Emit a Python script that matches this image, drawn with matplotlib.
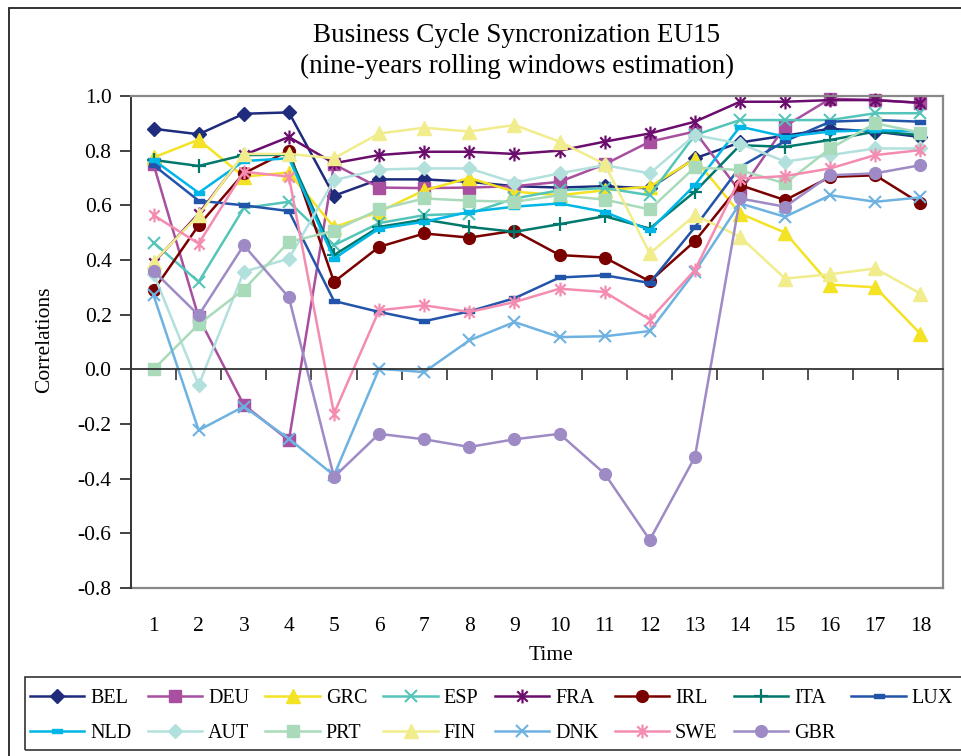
import matplotlib
matplotlib.use("Agg")
import matplotlib.pyplot as plt
from matplotlib.path import Path
from matplotlib.patches import Rectangle
import numpy as np

plt.rcParams['font.family'] = ['Liberation Serif', 'DejaVu Serif']

time = list(range(1, 19))
tick_labels = [str(t) for t in time]
y_ticks = [-0.8, -0.6, -0.4, -0.2, 0.0, 0.2, 0.4, 0.6, 0.8, 1.0]
y_tick_labels = ["-0.8", "-0.6", "-0.4", "-0.2", "0.0", "0.2", "0.4", "0.6", "0.8", "1.0"]

BEL = [0.88, 0.86, 0.935, 0.94, 0.635, 0.695, 0.695, 0.686, 0.67, 0.665, 0.67, 0.662, 0.772, 0.83, 0.855, 0.88, 0.87, 0.85]
DEU = [0.75, 0.19, -0.13, -0.26, 0.75, 0.665, 0.663, 0.665, 0.67, 0.686, 0.75, 0.833, 0.87, 0.65, 0.89, 0.99, 0.985, 0.975]
GRC = [0.775, 0.84, 0.705, 0.72, 0.52, 0.576, 0.655, 0.70, 0.65, 0.637, 0.655, 0.668, 0.77, 0.57, 0.50, 0.31, 0.30, 0.13]
ESP = [0.464, 0.32, 0.59, 0.613, 0.454, 0.535, 0.564, 0.57, 0.625, 0.655, 0.663, 0.637, 0.857, 0.912, 0.912, 0.912, 0.937, 0.937]
FRA = [0.39, 0.57, 0.784, 0.85, 0.754, 0.784, 0.796, 0.796, 0.788, 0.80, 0.833, 0.863, 0.906, 0.979, 0.979, 0.985, 0.985, 0.975]
IRL = [0.289, 0.527, 0.717, 0.80, 0.32, 0.448, 0.497, 0.482, 0.507, 0.418, 0.409, 0.322, 0.469, 0.674, 0.619, 0.704, 0.71, 0.607]
ITA = [0.766, 0.744, 0.784, 0.785, 0.418, 0.521, 0.548, 0.521, 0.503, 0.531, 0.56, 0.515, 0.65, 0.82, 0.814, 0.839, 0.87, 0.857]
LUX = [0.747, 0.617, 0.60, 0.579, 0.25, 0.21, 0.176, 0.212, 0.26, 0.336, 0.344, 0.316, 0.52, 0.74, 0.835, 0.906, 0.912, 0.906]
NLD = [0.766, 0.646, 0.762, 0.772, 0.405, 0.515, 0.54, 0.576, 0.595, 0.607, 0.576, 0.509, 0.674, 0.888, 0.851, 0.87, 0.875, 0.87]
AUT = [0.35, -0.058, 0.357, 0.405, 0.692, 0.731, 0.735, 0.735, 0.683, 0.717, 0.747, 0.717, 0.857, 0.826, 0.76, 0.784, 0.808, 0.808]
PRT = [0.0, 0.165, 0.292, 0.466, 0.507, 0.585, 0.625, 0.617, 0.613, 0.637, 0.621, 0.585, 0.739, 0.729, 0.68, 0.808, 0.90, 0.866]
FIN = [0.393, 0.564, 0.788, 0.788, 0.772, 0.863, 0.884, 0.87, 0.894, 0.833, 0.751, 0.424, 0.564, 0.485, 0.332, 0.348, 0.369, 0.277]
DNK = [0.271, -0.223, -0.136, -0.254, -0.388, 0.002, -0.01, 0.106, 0.173, 0.118, 0.121, 0.14, 0.357, 0.607, 0.558, 0.637, 0.613, 0.629]
SWE = [0.564, 0.46, 0.723, 0.705, -0.162, 0.216, 0.234, 0.21, 0.246, 0.295, 0.283, 0.182, 0.363, 0.698, 0.707, 0.735, 0.784, 0.802]
GBR = [0.36, 0.198, 0.454, 0.263, -0.394, -0.236, -0.256, -0.284, -0.256, -0.236, -0.382, -0.624, -0.321, 0.625, 0.595, 0.71, 0.717, 0.747]

countries = ["BEL", "DEU", "GRC", "ESP", "FRA", "IRL", "ITA", "LUX",
             "NLD", "AUT", "PRT", "FIN", "DNK", "SWE", "GBR"]
series = [BEL, DEU, GRC, ESP, FRA, IRL, ITA, LUX, NLD, AUT, PRT, FIN, DNK, SWE, GBR]

M, L = Path.MOVETO, Path.LINETO
star = Path([(0, -1), (0, 1), (-0.75, -0.75), (0.75, 0.75), (-0.75, 0.75), (0.75, -0.75)],
            [M, L, M, L, M, L])
dash = Path([(-1, -0.42), (1, -0.42), (1, 0.42), (-1, 0.42), (-1, -0.42)],
            [M, L, L, L, Path.CLOSEPOLY])

styles = {
    "BEL": dict(color="#1F2C7C", marker="D", ms=7.5),
    "DEU": dict(color="#A84FA0", marker="s", ms=8),
    "GRC": dict(color="#F4E224", marker="^", ms=9.5),
    "ESP": dict(color="#55C5BA", marker="x", ms=9, mew=1.5),
    "FRA": dict(color="#6B0D6D", marker=star, ms=10, mew=1.6),
    "IRL": dict(color="#7A0000", marker="o", ms=8.5),
    "ITA": dict(color="#00786C", marker="+", ms=10, mew=1.6),
    "LUX": dict(color="#2255AA", marker=dash, ms=7),
    "NLD": dict(color="#00B6E6", marker=dash, ms=7),
    "AUT": dict(color="#B2E1DD", marker="D", ms=7.5),
    "PRT": dict(color="#A9DBBA", marker="s", ms=8),
    "FIN": dict(color="#F1EC8C", marker="^", ms=9.5),
    "DNK": dict(color="#6EB2E2", marker="x", ms=9, mew=1.5),
    "SWE": dict(color="#F48CB1", marker=star, ms=10, mew=1.6),
    "GBR": dict(color="#9E8BC6", marker="o", ms=8.5),
}

fig = plt.figure(figsize=(9.61, 7.56), dpi=100)
ax = fig.add_axes([131 / 961, 1 - 588 / 756, (943 - 131) / 961, (588 - 96) / 756])

handles = {}
for name, vals in zip(countries, series):
    st = styles[name]
    h, = ax.plot(time, vals, color=st["color"], lw=1.8, marker=st["marker"],
                 ms=st["ms"], mfc=st["color"], mec=st["color"], mew=st.get("mew", 1.0),
                 label=name, clip_on=False)
    handles[name] = h

ax.set_xlim(0.5, 18.5)
ax.set_ylim(-0.8, 1.0)
ax.set_yticks(y_ticks)
ax.set_yticklabels(y_tick_labels)
ax.tick_params(axis='y', direction='out', length=8, width=1.2, labelsize=15.5, pad=6, color='#222222')

# category axis crossing at zero
ax.spines['bottom'].set_position(('data', 0))
ax.spines['bottom'].set_color('#333333')
ax.spines['bottom'].set_linewidth(1.3)
ax.set_xticks(np.arange(0.5, 18.6, 1.0))
ax.set_xticklabels([])
ax.tick_params(axis='x', direction='out', length=8, width=1.1, color='#222222')

ax.spines['left'].set_color('#333333')
ax.spines['left'].set_linewidth(1.4)
for s in ['top', 'right']:
    ax.spines[s].set_color('#888888')
    ax.spines[s].set_linewidth(1.6)

sec = ax.secondary_xaxis(0.0)
sec.set_xticks(time)
sec.set_xticklabels(tick_labels)
sec.tick_params(axis='x', length=0, labelsize=15.5, pad=21)
sec.spines['bottom'].set_color('#888888')
sec.spines['bottom'].set_linewidth(1.6)

fig.text(517 / 961, 1 - 35 / 756, "Business Cycle Syncronization EU15", ha='center', va='center', fontsize=19.5)
fig.text(517 / 961, 1 - 66 / 756, "(nine-years rolling windows estimation)", ha='center', va='center', fontsize=19.5)
fig.text(45 / 961, 1 - 340 / 756, "Correlations", rotation=90, ha='center', va='center', fontsize=15.5)
fig.text(551 / 961, 1 - 655 / 756, "Time", ha='center', va='center', fontsize=15.5)

# outer chart frame
fig.patches.append(Rectangle((9 / 961, -0.1), 1.1, 1 - 8 / 756 + 0.1, transform=fig.transFigure,
                             fill=False, edgecolor='#222222', lw=1.3))
# legend frame
fig.patches.append(Rectangle((25 / 961, 1 - 750 / 756), 1.0, (750 - 677) / 756,
                             transform=fig.transFigure, fill=False, edgecolor='#333333', lw=1.2))

order = ["BEL", "NLD", "DEU", "AUT", "GRC", "PRT", "ESP", "FIN", "FRA", "DNK",
         "IRL", "SWE", "ITA", "GBR", "LUX"]
leg = fig.legend([handles[n] for n in order], order, ncol=8, loc='upper left',
                 bbox_to_anchor=(30 / 961, 1 - 689 / 756), frameon=False,
                 fontsize=14.5, handlelength=2.7, handletextpad=0.3,
                 columnspacing=0.8, labelspacing=0.78, borderpad=0, borderaxespad=0)

fig.savefig("out.png", dpi=100)
